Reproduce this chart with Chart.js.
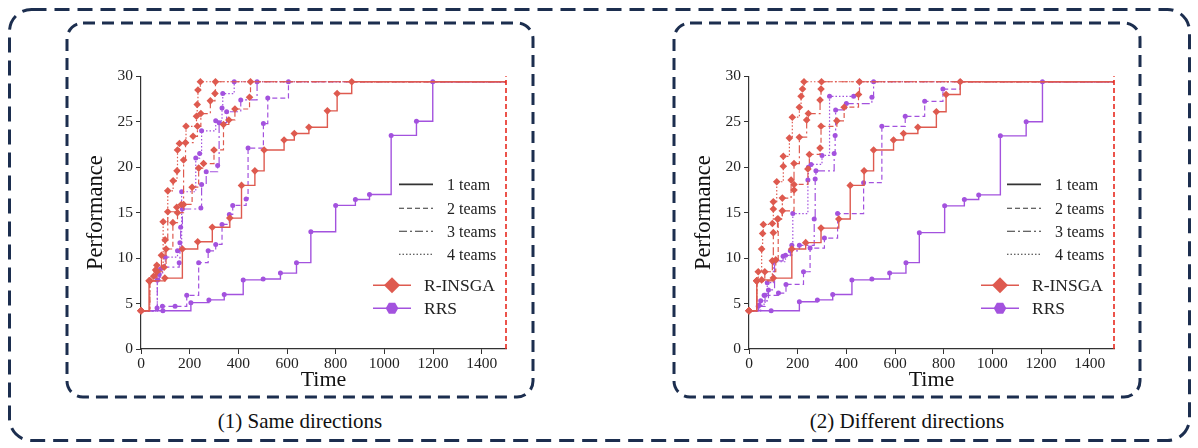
<!DOCTYPE html>
<html><head><meta charset="utf-8">
<script src="https://cdn.jsdelivr.net/npm/chart.js@4.4.1/dist/chart.umd.min.js"></script>
<style>
body{margin:0;width:1198px;height:448px;background:#fff;position:relative;overflow:hidden;font-family:'Liberation Serif','Times New Roman',serif;}
svg{position:absolute;left:0;top:0}
.cap{position:absolute;top:408px;line-height:26px;font-size:21px;color:#111;transform:translateX(-50%);white-space:nowrap}
.wrap{position:absolute;top:64px;width:430px;height:333px}
</style></head><body>
<svg width="1198" height="448">
<rect x="9.5" y="9.5" width="1180" height="431" rx="22" fill="none" stroke="#1c2e4f" stroke-width="3" stroke-dasharray="15 8"/>
<rect x="67" y="23" width="466" height="374" rx="16" fill="none" stroke="#1c2e4f" stroke-width="3" stroke-dasharray="12 7"/>
<rect x="674" y="23" width="466" height="374" rx="16" fill="none" stroke="#1c2e4f" stroke-width="3" stroke-dasharray="12 7"/>
</svg>
<div class="cap" style="left:300px">(1) Same directions</div>
<div class="cap" style="left:907px">(2) Different directions</div>
<div class="wrap" style="left:80px"><canvas id="c1"></canvas></div>
<div class="wrap" style="left:688px"><canvas id="c2"></canvas></div>
<script>
// ---- data ----
const xTicks = [0,200,400,600,800,1000,1200,1400];
const yTicks = [0,5,10,15,20,25,30];
const timeLimit = 1500;
const teamLabels = ['1 team','2 teams','3 teams','4 teams'];
const methodLabels = ['R-INSGA','RRS'];

// Same directions
const same_RI_1 = [[0,4.2],[33,7.5],[98,7.8],[170,11.0],[233,11.8],[293,13.4],[365,14.4],[413,18.0],[468,19.6],[506,21.9],[588,23.0],[630,23.7],[690,24.4],[766,26.2],[806,28.1],[866,29.4],[1500,29.4]];
const same_RI_2 = [[0,4.2],[36,7.5],[65,8.5],[95,9.0],[103,11.0],[131,13.9],[150,15.0],[175,15.9],[210,17.8],[237,19.9],[257,20.4],[300,21.9],[339,24.7],[361,25.2],[386,26.4],[446,27.7],[450,29.4],[1500,29.4]];
const same_RI_3 = [[0,4.2],[36,7.5],[60,8.7],[84,10.3],[99,12.0],[110,15.1],[147,15.6],[166,15.9],[175,20.8],[183,22.7],[214,23.4],[232,24.5],[246,25.9],[285,27.3],[304,28.1],[306,29.4],[1500,29.4]];
const same_RI_4 = [[0,4.2],[36,7.5],[52,8.0],[65,9.2],[91,14.0],[110,17.4],[132,18.5],[148,19.6],[150,21.9],[158,22.6],[185,24.5],[228,25.6],[231,26.9],[234,28.5],[244,29.4],[1500,29.4]];
const same_RRS_1 = [[0,4.2],[90,4.2],[205,5.1],[279,5.4],[342,6.0],[420,7.6],[502,7.7],[573,8.35],[639,9.5],[698,12.9],[800,15.8],[881,16.45],[939,17.0],[1028,23.5],[1132,25.05],[1199,29.4],[1500,29.4]];
const same_RRS_2 = [[0,4.2],[66,4.5],[88,4.7],[140,4.7],[188,5.9],[237,9.5],[276,10.8],[307,11.5],[333,13.7],[363,14.8],[377,15.8],[432,16.5],[440,22.1],[503,24.8],[521,27.6],[606,29.4],[1500,29.4]];
const same_RRS_3 = [[0,4.2],[67,7.6],[75,8.2],[89,9.0],[157,9.5],[160,11.7],[163,13.4],[170,15.4],[246,15.5],[249,18.1],[268,19.5],[315,20.2],[321,24.9],[352,26.1],[410,27.4],[477,29.4],[1500,29.4]];
const same_RRS_4 = [[0,4.2],[67,7.6],[80,8.8],[100,10.1],[150,10.8],[167,17.3],[225,21.0],[241,21.5],[249,24.0],[307,25.1],[333,26.5],[336,28.1],[383,29.4],[1500,29.4]];

// Different directions
const diff_RI_1 = [[0,4.2],[32,7.5],[52,7.6],[100,7.8],[176,11.0],[233,11.7],[296,13.3],[369,14.3],[416,18.0],[473,19.6],[512,21.9],[594,23.0],[635,23.7],[694,24.4],[770,26.1],[810,28.0],[868,29.4],[1500,29.4]];
const diff_RI_2 = [[0,4.2],[32,7.5],[65,8.5],[110,9.8],[120,14.3],[137,15.2],[185,17.5],[185,18.1],[242,19.8],[248,21.4],[292,22.1],[296,24.5],[361,25.1],[391,26.6],[450,28.0],[454,29.4],[1500,29.4]];
const diff_RI_3 = [[0,4.2],[32,7.5],[96,9.7],[100,12.8],[117,14.3],[137,16.6],[173,18.6],[185,20.4],[207,23.3],[237,25.2],[244,25.9],[292,27.4],[296,28.6],[298,29.4],[1500,29.4]];
const diff_RI_4 = [[0,4.2],[32,7.5],[38,8.5],[52,11.0],[56,12.7],[59,13.7],[96,13.8],[100,15.4],[100,16.2],[114,18.4],[141,20.1],[141,21.2],[166,23.2],[178,25.5],[207,26.6],[214,27.8],[220,28.6],[226,29.4],[1500,29.4]];
const diff_RRS_1 = [[0,4.2],[91,4.2],[207,5.2],[281,5.4],[344,6.0],[423,7.6],[505,7.7],[578,8.35],[645,9.5],[700,12.8],[804,15.75],[885,16.45],[944,16.95],[1033,23.45],[1139,25.0],[1206,29.4],[1500,29.4]];
const diff_RRS_2 = [[0,4.2],[38,4.7],[66,5.9],[121,6.15],[152,7.1],[224,8.5],[251,11.1],[310,12.2],[364,14.9],[471,18.3],[546,24.5],[642,25.6],[722,27.25],[797,28.6],[868,29.4],[1500,29.4]];
const diff_RRS_3 = [[0,4.2],[48,5.3],[80,6.5],[105,9.7],[140,10.2],[170,10.8],[207,11.4],[268,14.3],[272,18.7],[275,19.6],[350,21.5],[354,23.5],[356,26.3],[400,27.0],[505,27.7],[512,29.4],[1500,29.4]];
const diff_RRS_4 = [[0,4.2],[40,4.8],[62,5.9],[75,7.3],[100,9.6],[150,10.3],[176,11.4],[180,14.9],[242,18.6],[244,20.0],[255,20.3],[300,21.3],[331,27.8],[430,27.8],[454,29.4],[1500,29.4]];

// ---- styling ----
const RED = '#de5a4f', PURPLE = '#a352de', LIMIT = '#e8281e';
const DASHES = [[], [5,3], [8,3,2,3], [1.5,2]];
const FONT = "'Liberation Serif','Times New Roman',serif";

function series(data, color, dash, style) {
  return {
    data: data.map(p => ({x:p[0], y:p[1]})),
    borderColor: color, backgroundColor: color,
    borderWidth: dash.length ? 1.2 : 1.4, borderDash: dash,
    stepped: 'before', tension: 0, fill: false, clip: 8,
    pointStyle: style,
    pointRadius: ctx => ctx.dataIndex === data.length - 1 ? 0 : (style === 'rectRot' ? 3.8 : 2.5),
    pointBorderWidth: 0, pointHoverRadius: 0
  };
}

const legendPlugin = {
  id: 'teamLegend',
  afterDraw(chart) {
    const c = chart.ctx, a = chart.chartArea, R = a.right, T = a.top;
    c.save();
    c.textBaseline = 'middle';
    c.fillStyle = '#222';
    const rowsY = [108, 132, 155, 178];
    teamLabels.forEach((t, i) => {
      c.strokeStyle = '#333';
      c.lineWidth = i === 0 ? 1.8 : 1.1;
      c.setLineDash(DASHES[i]);
      c.beginPath(); c.moveTo(R - 107, T + rowsY[i]); c.lineTo(R - 73, T + rowsY[i]); c.stroke();
      c.setLineDash([]);
      c.fillStyle = '#222';
      c.font = '16px ' + FONT;
      c.fillText(t, R - 59, T + rowsY[i] + 1);
    });
    const my = [209, 232];
    [RED, PURPLE].forEach((col, i) => {
      const y = T + my[i];
      c.strokeStyle = col; c.lineWidth = 1.6;
      c.beginPath(); c.moveTo(R - 133, y); c.lineTo(R - 95, y); c.stroke();
      c.fillStyle = col;
      const cx = R - 114;
      c.beginPath();
      if (i === 0) {
        c.moveTo(cx, y - 8); c.lineTo(cx + 8, y); c.lineTo(cx, y + 8); c.lineTo(cx - 8, y);
      } else {
        for (let k = 0; k < 6; k++) {
          const ang = Math.PI / 3 * k;
          const px = cx + 6.3 * Math.cos(ang), py = y + 6.3 * Math.sin(ang);
          k ? c.lineTo(px, py) : c.moveTo(px, py);
        }
      }
      c.closePath(); c.fill();
      c.fillStyle = '#222';
      c.font = '17.5px ' + FONT;
      c.fillText(methodLabels[i], R - 82, y + 1);
    });
    c.restore();
  }
};

function makeChart(id, ri, rrs) {
  const datasets = [];
  ri.forEach((d, i) => datasets.push(series(d, RED, DASHES[i], 'rectRot')));
  rrs.forEach((d, i) => datasets.push(series(d, PURPLE, DASHES[i], 'circle')));
  datasets.unshift({
    data: [{x: timeLimit, y: yTicks[0]}, {x: timeLimit, y: yTicks[yTicks.length - 1]}],
    borderColor: LIMIT, borderWidth: 1.6, borderDash: [5,3], pointRadius: 0, fill: false, clip: 8
  });
  new Chart(document.getElementById(id), {
    type: 'line',
    data: { datasets },
    options: {
      responsive: true, maintainAspectRatio: false, animation: false,
      layout: { padding: { top: 9, right: 4, left: 0, bottom: 0 } },
      plugins: { legend: { display: false }, tooltip: { enabled: false } },
      events: [],
      scales: {
        x: {
          type: 'linear', min: 0, max: timeLimit,
          afterBuildTicks: ax => { ax.ticks = xTicks.map(v => ({value: v})); },
          afterFit: ax => { ax.height = 48; },
          grid: { drawOnChartArea: false, drawTicks: true, tickLength: 5, color: '#333' },
          border: { display: true, color: '#333', width: 1.2 },
          ticks: { font: { family: FONT, size: 15.5 }, color: '#222', padding: 1, maxRotation: 0, callback: v => String(v) },
          title: { display: true, text: 'Time', font: { family: FONT, size: 22 }, color: '#111', padding: { top: 0, bottom: 4 } }
        },
        y: {
          min: 0, max: 30,
          afterBuildTicks: ax => { ax.ticks = yTicks.map(v => ({value: v})); },
          afterFit: ax => { ax.width = 61; },
          grid: { drawOnChartArea: false, drawTicks: true, tickLength: 5, color: '#333' },
          border: { display: true, color: '#333', width: 1.2 },
          ticks: { font: { family: FONT, size: 15.5 }, color: '#222', padding: 3, callback: v => String(v) },
          title: { display: true, text: 'Performance', font: { family: FONT, size: 22.5 }, color: '#111', padding: 3 }
        }
      }
    },
    plugins: [legendPlugin]
  });
}

makeChart('c1', [same_RI_1, same_RI_2, same_RI_3, same_RI_4], [same_RRS_1, same_RRS_2, same_RRS_3, same_RRS_4]);
makeChart('c2', [diff_RI_1, diff_RI_2, diff_RI_3, diff_RI_4], [diff_RRS_1, diff_RRS_2, diff_RRS_3, diff_RRS_4]);
</script>
</body></html>
